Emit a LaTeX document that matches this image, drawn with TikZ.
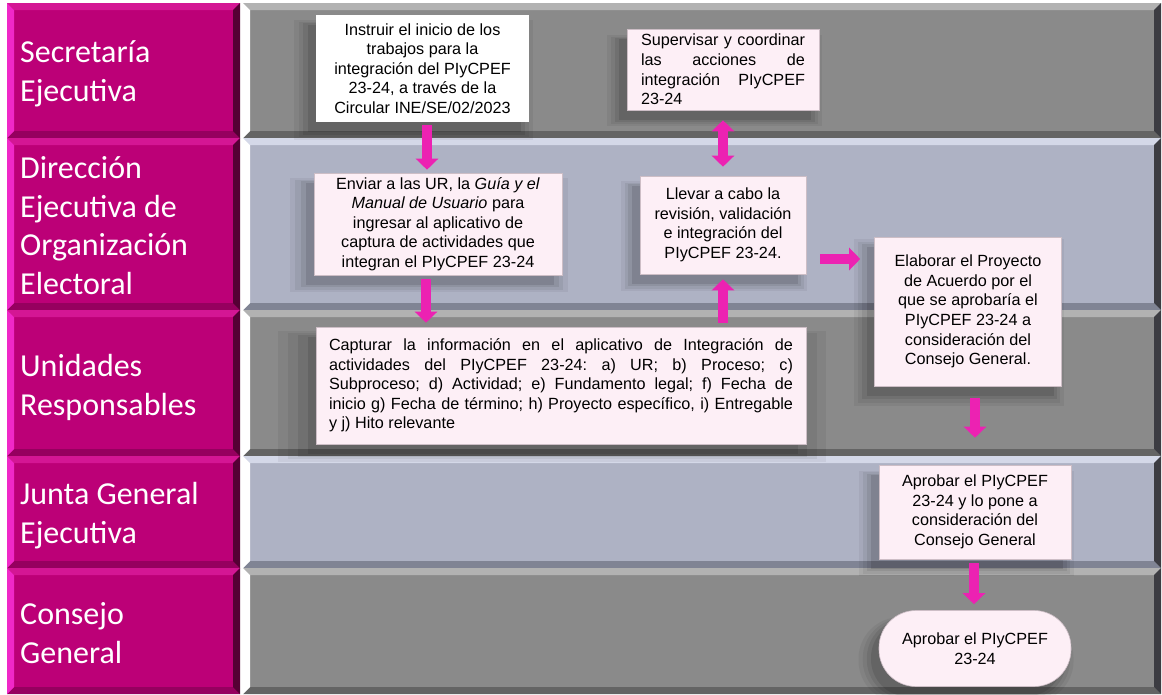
\documentclass[tikz,border=0pt]{standalone}
\usepackage{fontspec}
\setmainfont{Liberation Sans}
\newfontfamily\lanefont{Carlito}
\usetikzlibrary{arrows.meta,shadows}
\definecolor{mag}{RGB}{188,0,119}
\definecolor{magL}{RGB}{240,40,200}
\definecolor{magT}{RGB}{212,22,148}
\definecolor{magB}{RGB}{150,0,95}
\definecolor{magR}{RGB}{85,0,52}
\definecolor{greyD}{RGB}{138,138,138}
\definecolor{greyDT}{RGB}{178,178,178}
\definecolor{greyDB}{RGB}{100,100,100}
\definecolor{blueG}{RGB}{174,178,196}
\definecolor{blueGT}{RGB}{212,216,232}
\definecolor{blueGB}{RGB}{128,132,148}
\definecolor{edgeR}{RGB}{60,60,66}
\definecolor{boxpink}{RGB}{253,239,246}
\definecolor{boxedge}{RGB}{205,190,198}
\definecolor{apink}{RGB}{236,34,178}
\newcommand{\boxfont}{\fontsize{16.2}{19.6}\selectfont\frenchspacing}
\newcommand{\jl}[2]{\makebox[#1][s]{#2}}
% bevelled band: x1,y1,x2,y2,main,top,left,bottom,right
\newcommand{\bevband}[9]{%
  \fill[#5] (#1,#2) rectangle (#3,#4);
  \fill[#6] (#1,#2) -- (#3,#2) -- (#3-\bw,#2+\bw) -- (#1+\bw,#2+\bw) -- cycle;
  \fill[#8] (#1,#4) -- (#3,#4) -- (#3-\bw,#4-\bw) -- (#1+\bw,#4-\bw) -- cycle;
  \fill[#7] (#1,#2) -- (#1+\bw,#2+\bw) -- (#1+\bw,#4-\bw) -- (#1,#4) -- cycle;
  \fill[#9] (#3,#2) -- (#3-\bw,#2+\bw) -- (#3-\bw,#4-\bw) -- (#3,#4) -- cycle;
}
\def\bw{7}
\tikzset{
  softshadow/.style={
    general shadow={fill=black, opacity=0.10, shadow xshift=-8pt, shadow yshift=-10pt, shadow scale=1.00},
    general shadow={fill=black, opacity=0.08, shadow xshift=-8pt, shadow yshift=-10pt, shadow scale=1.04},
    general shadow={fill=black, opacity=0.06, shadow xshift=-8pt, shadow yshift=-10pt, shadow scale=1.08},
    general shadow={fill=black, opacity=0.05, shadow xshift=-8pt, shadow yshift=-10pt, shadow scale=1.12}},
  box/.style={draw=boxedge, fill=boxpink, line width=0.6pt, inner sep=0pt,
    align=center, font=\boxfont, softshadow},
  lane/.style={anchor=base west, inner sep=0pt, align=left, text=white,
    font=\lanefont\fontsize{32}{38.5}\selectfont},
  barrow/.style={line width=10.5pt, draw=apink, -{Triangle[width=22pt,length=11pt]}},
  dbarrow/.style={line width=10.5pt, draw=apink,
    {Triangle[width=22pt,length=11pt]}-{Triangle[width=22pt,length=11pt]}}
}
\begin{document}
\begin{tikzpicture}[x=1pt,y=-1pt]
\fill[white] (0,0) rectangle (1162,694);
\useasboundingbox (0,0) rectangle (1162,694);
% lanes, left column
\bevband{7}{3}{240}{138}{mag}{magT}{magL}{magB}{magR}
\bevband{7}{138}{240}{310}{mag}{magT}{magL}{magB}{magR}
\bevband{7}{310}{240}{456}{mag}{magT}{magL}{magB}{magR}
\bevband{7}{456}{240}{568}{mag}{magT}{magL}{magB}{magR}
\bevband{7}{568}{240}{694}{mag}{magT}{magL}{magB}{magR}
% lanes, right area
\bevband{243}{3}{1161}{138}{greyD}{greyDT}{white}{greyDB}{edgeR}
\bevband{243}{138}{1161}{310}{blueG}{blueGT}{white}{blueGB}{edgeR}
\bevband{243}{310}{1161}{456}{greyD}{greyDT}{white}{greyDB}{edgeR}
\bevband{243}{456}{1161}{568}{blueG}{blueGT}{white}{blueGB}{edgeR}
\bevband{243}{568}{1161}{694}{greyD}{greyDT}{white}{greyDB}{edgeR}
% lane labels (anchor = baseline of last line)
\node[lane] (l1) at (20,101) {Secretaría\\Ejecutiva};
\node[lane] (l2) at (20,294) {Dirección\\Ejecutiva de\\Organización\\Electoral};
\node[lane] (l3) at (20,415) {Unidades\\Responsables};
\node[lane] (l4) at (20,543) {Junta General\\Ejecutiva};
\node[lane] (l5) at (20,663) {Consejo\\General};
% boxes
\node[box, fill=white, draw=none, minimum width=213pt, minimum height=107pt] (inst) at (422.5,68.5)
  {Instruir el inicio de los\\trabajos para la\\integración del PIyCPEF\\23-24, a través de la\\Circular INE/SE/02/2023};
\node[box, align=left, minimum width=192pt, minimum height=81pt] (sup) at (723,69.5)
  {\jl{164pt}{Supervisar y coordinar}\\\jl{164pt}{las acciones de}\\\jl{164pt}{integración PIyCPEF}\\\makebox[164pt][l]{23-24}};
\node[box, minimum width=248pt, minimum height=102pt] (env) at (438,224)
  {Enviar a las UR, la \textit{Guía y el}\\\textit{Manual de Usuario} para\\ingresar al aplicativo de\\captura de actividades que\\integran el PIyCPEF 23-24};
\node[box, minimum width=166pt, minimum height=98pt] (llev) at (723,225)
  {Llevar a cabo la\\revisión, validación\\e integración del\\PIyCPEF 23-24.};
\node[box, minimum width=187pt, minimum height=149pt] (elab) at (968,311.5)
  {Elaborar el Proyecto\\de Acuerdo por el\\que se aprobaría el\\PIyCPEF 23-24 a\\consideración del\\Consejo General.};
\node[box, align=left, minimum width=490pt, minimum height=117pt] (capt) at (561,385.5)
  {\jl{464pt}{Capturar la información en el aplicativo de Integración de}\\
   \jl{464pt}{actividades del PIyCPEF 23-24: a) UR; b) Proceso; c)}\\
   \jl{464pt}{Subproceso; d) Actividad; e) Fundamento legal; f) Fecha de}\\
   \jl{464pt}{inicio g) Fecha de término; h) Proyecto específico, i) Entregable}\\
   \makebox[464pt][l]{y j) Hito relevante}};
\node[box, minimum width=192pt, minimum height=94pt] (jge) at (975,512)
  {Aprobar el PIyCPEF\\23-24 y lo pone a\\consideración del\\Consejo General};
\node[box, rounded corners=37pt, minimum width=192pt, minimum height=76pt] (cg) at (975,648.5)
  {Aprobar el PIyCPEF\\23-24};
% connectors
\draw[barrow] ([xshift=4.5pt,yshift=-3pt]inst.south) -- ([xshift=4.5pt,yshift=3pt]inst.south |- env.north);
\draw[barrow] ([xshift=-12pt,yshift=-4pt]env.south) -- ([xshift=-12pt,yshift=4pt]env.south |- capt.north);
\draw[dbarrow] ([yshift=-10pt]sup.south) -- ([yshift=9pt]llev.north);
\draw[barrow] ([yshift=4pt]capt.north -| llev.south) -- ([yshift=-5pt]llev.south);
\draw[barrow] ([xshift=14pt,yshift=-34pt]llev.east) -- ([xshift=-14pt,yshift=-34pt]llev.east -| elab.west);
\draw[barrow] ([xshift=7pt,yshift=-12pt]elab.south) -- ([xshift=7pt,yshift=27pt]elab.south |- jge.north);
\draw[barrow] ([xshift=-1pt,yshift=-4pt]jge.south) -- ([xshift=-1pt,yshift=6pt]jge.south |- cg.north);
\end{tikzpicture}
\end{document}
